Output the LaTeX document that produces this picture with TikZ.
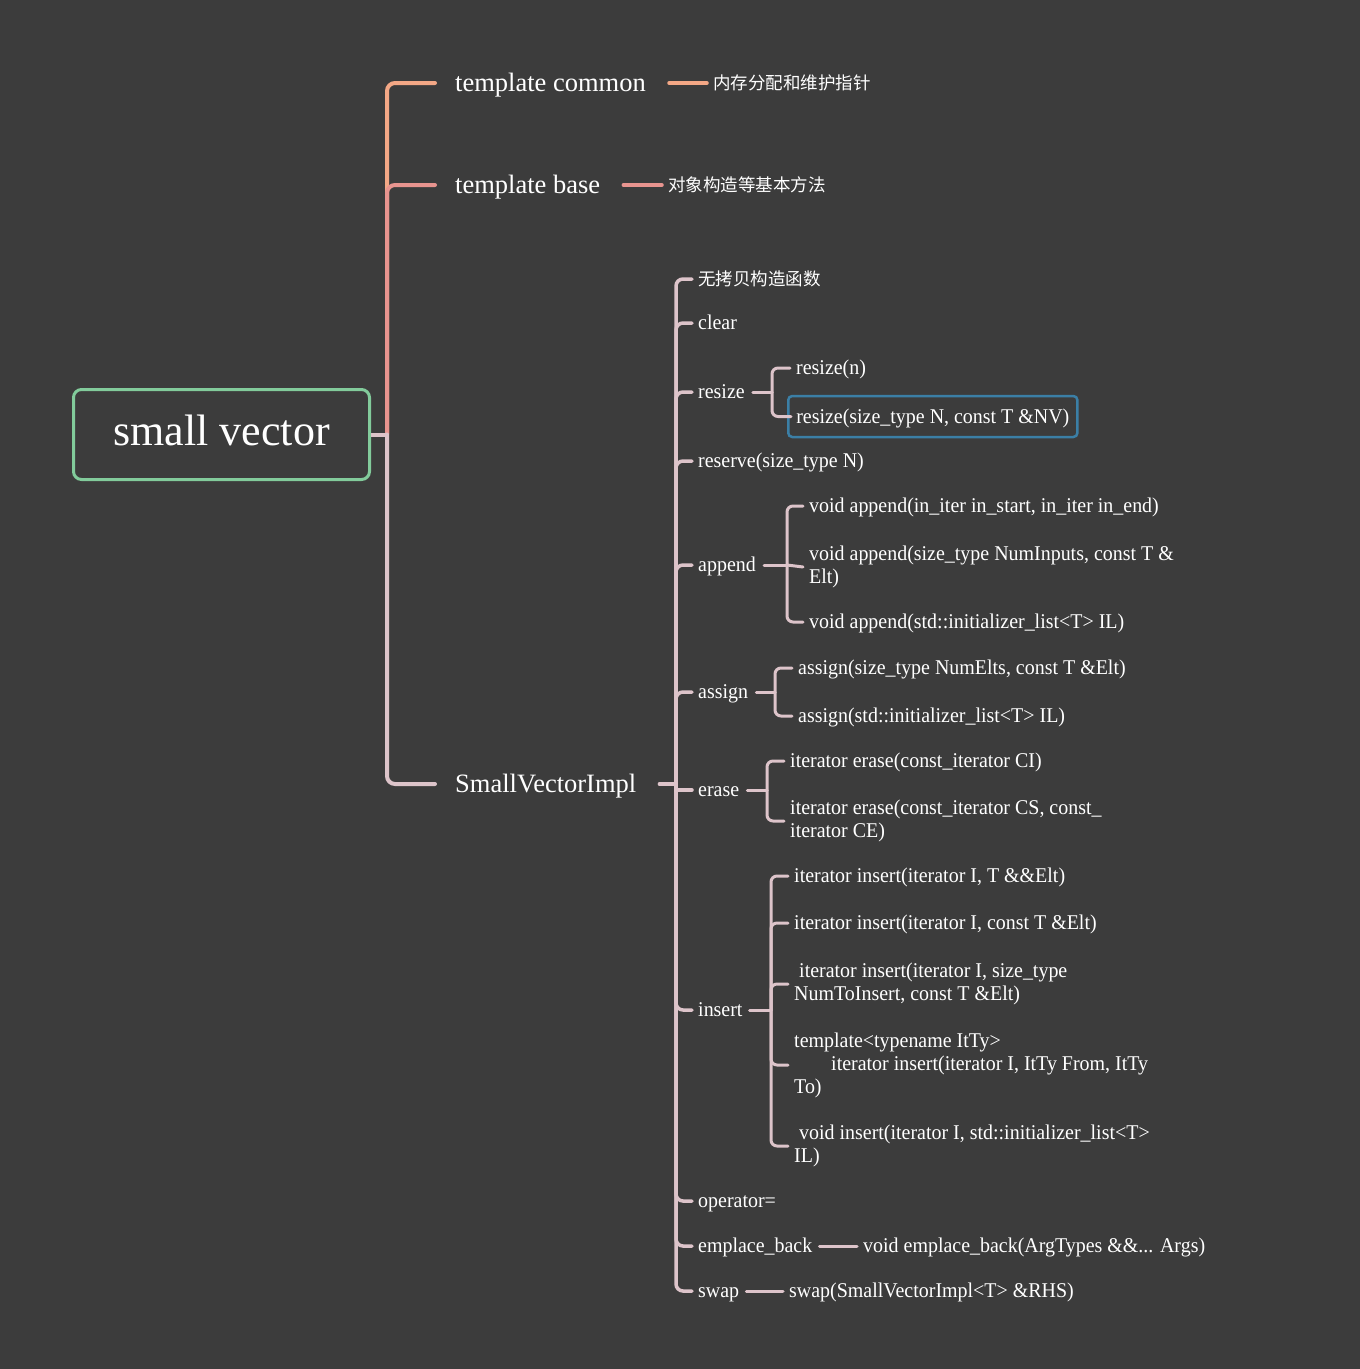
\documentclass[tikz,border=0pt]{standalone}
\usepackage{fontspec}
\setmainfont{Liberation Serif}[FakeStretch=0.95]
\newfontfamily\bigserif{Liberation Serif}
\newfontfamily\cjk{Noto Sans CJK SC}
\definecolor{bg}{HTML}{3C3C3C}
\definecolor{cA}{HTML}{F4A886}
\definecolor{cB}{HTML}{E8948F}
\definecolor{cC}{HTML}{DDC4CA}
\definecolor{rootgreen}{HTML}{82CB9B}
\definecolor{selblue}{HTML}{3B7FA6}
\begin{document}
\begin{tikzpicture}[x=1pt,y=-1pt,
  tx/.style={anchor=west, inner sep=0pt, text=white, font=\fontsize{21}{23}\selectfont, text height=17.5pt, text depth=4pt},
  mtx/.style={anchor=west, inner sep=0pt, text=white, font=\fontsize{21}{23}\selectfont, align=left, yshift=-2pt},
  big/.style={anchor=west, inner sep=0pt, text=white, font=\bigserif\fontsize{26.5}{30}\selectfont, text height=21pt, text depth=5pt},
  zh/.style={tx, font=\cjk\fontsize{17.5}{21}\selectfont},
  mainline/.style={line width=4pt, line cap=round, rounded corners=8pt},
  subline/.style={draw=cC, line width=3pt, line cap=round, rounded corners=6pt},
  trunkline/.style={draw=cC, line width=3.5pt, line cap=round, rounded corners=7pt}
]
\fill[bg] (0,0) rectangle (1360,1369);
\useasboundingbox (0,0) rectangle (1360,1369);

% root
\node[draw=rootgreen, line width=3pt, rounded corners=8pt, minimum width=296pt, minimum height=90pt,
      fill=bg, text=white, font=\bigserif\fontsize{44}{50}\selectfont, text height=30pt, text depth=9pt]
      (root) at (221.5,434.5) {small vector};

% first level
\node[big] (tc) at (455,83) {template common};
\node[big] (tb) at (455,185) {template base};
\node[big] (svi) at (455,784) {SmallVectorImpl};
\node[zh] (tcn) at (713,83) {内存分配和维护指针};
\node[zh] (tbn) at (668,185) {对象构造等基本方法};

\coordinate (j1) at (387,434.5);
\draw[mainline, cA] (j1) |- ([xshift=-20pt]tc.west);
\draw[mainline, cB] (j1) |- ([xshift=-20pt]tb.west);
\draw[mainline, cC] (j1) |- ([xshift=-20pt]svi.west);
\draw[mainline, cC, rounded corners=0pt, line cap=butt] (root.east) -- (j1);

\draw[mainline, cA, line width=3.5pt] ([xshift=23pt]tc.east) -- ([xshift=-6pt]tcn.west);
\draw[mainline, cB, line width=3.5pt] ([xshift=23pt]tb.east) -- ([xshift=-6pt]tbn.west);

% SmallVectorImpl children
\coordinate (j2) at (676,784);
\draw[trunkline, rounded corners=0pt] ([xshift=23pt]svi.east) -- (j2);

\node[zh] (k1) at (698,279) {无拷贝构造函数};
\node[tx] (k2) at (698,323) {clear};
\node[tx] (k3) at (698,392) {resize};
\node[tx] (k4) at (698,461) {reserve(size\_type N)};
\node[tx] (k5) at (698,565) {append};
\node[tx] (k6) at (698,692) {assign};
\node[tx] (k7) at (698,790) {erase};
\node[tx] (k8) at (698,1010) {insert};
\node[tx] (k9) at (698,1201) {operator=};
\node[tx] (k10) at (698,1246) {emplace\_back};
\node[tx] (k11) at (698,1291) {swap};

\foreach \k in {k1,k2,k3,k4,k5,k6,k8,k9,k10,k11}
  \draw[trunkline] (j2) |- ([xshift=-6pt]\k.west);
\draw[trunkline, rounded corners=0pt] (j2) |- ([xshift=-6pt]k7.west);

% resize
\coordinate (rb) at (772,392);
\node[tx] (r1) at (796,368) {resize(n)};
\node[tx, draw=selblue, line width=2.5pt, rounded corners=4pt, inner xsep=8pt, minimum height=41pt]
      (r2) at (787,416.5) {resize(size\_type N, const T \&NV)};
\draw[subline, rounded corners=0pt] ([xshift=8pt]k3.east) -- (rb);
\draw[subline] (rb) |- ([xshift=-6pt]r1.west);
\draw[subline] (rb) |- ([xshift=4pt]r2.west);

% append
\coordinate (ab) at (787,565);
\node[tx] (a1) at (809,506) {void append(in\_iter in\_start, in\_iter in\_end)};
\node[mtx] (a2) at (809,565) {void append(size\_type NumInputs, const T \&\\Elt)};
\node[tx] (a3) at (809,622) {void append(std::initializer\_list<T> IL)};
\draw[subline, rounded corners=0pt] ([xshift=8pt]k5.east) -- (ab);
\draw[subline] (ab) |- ([xshift=-6pt]a1.west);
\draw[subline, rounded corners=0pt] (ab) -- ([xshift=-6pt]a2.west);
\draw[subline] (ab) |- ([xshift=-6pt]a3.west);

% assign
\coordinate (sb) at (775,692);
\node[tx] (s1) at (798,668) {assign(size\_type NumElts, const T \&Elt)};
\node[tx] (s2) at (798,716) {assign(std::initializer\_list<T> IL)};
\draw[subline, rounded corners=0pt] ([xshift=8pt]k6.east) -- (sb);
\draw[subline] (sb) |- ([xshift=-6pt]s1.west);
\draw[subline] (sb) |- ([xshift=-6pt]s2.west);

% erase
\coordinate (eb) at (767,790);
\node[tx] (e1) at (790,761) {iterator erase(const\_iterator CI)};
\node[mtx] (e2) at (790,819) {iterator erase(const\_iterator CS, const\_\\iterator CE)};
\draw[subline, rounded corners=0pt] ([xshift=8pt]k7.east) -- (eb);
\draw[subline] (eb) |- ([xshift=-6pt]e1.west);
\draw[subline] (eb) |- ([xshift=-6pt]e2.west);

% insert
\coordinate (ib) at (771,1010);
\node[tx] (i1) at (794,876) {iterator insert(iterator I, T \&\&Elt)};
\node[tx] (i2) at (794,923) {iterator insert(iterator I, const T \&Elt)};
\node[mtx] (i3) at (794,982) {\hspace*{5pt}iterator insert(iterator I, size\_type\\NumToInsert, const T \&Elt)};
\node[mtx] (i4) at (794,1063) {template<typename ItTy>\\\hspace*{37pt}iterator insert(iterator I, ItTy From, ItTy\\To)};
\node[mtx] (i5) at (794,1144) {\hspace*{5pt}void insert(iterator I, std::initializer\_list<T>\\IL)};
\draw[subline, rounded corners=0pt] ([xshift=7pt]k8.east) -- (ib);
\foreach \i in {i1,i2,i3,i4,i5}
  \draw[subline] (ib) |- ([xshift=-6pt]\i.west);

% emplace_back / swap
\node[tx] (m1) at (863,1246) {void emplace\_back(ArgTypes \&\&... Args)};
\draw[subline] ([xshift=7pt]k10.east) -- ([xshift=-6pt]m1.west);
\node[tx] (w1) at (789,1291) {swap(SmallVectorImpl<T> \&RHS)};
\draw[subline] ([xshift=7pt]k11.east) -- ([xshift=-6pt]w1.west);
\end{tikzpicture}
\end{document}
